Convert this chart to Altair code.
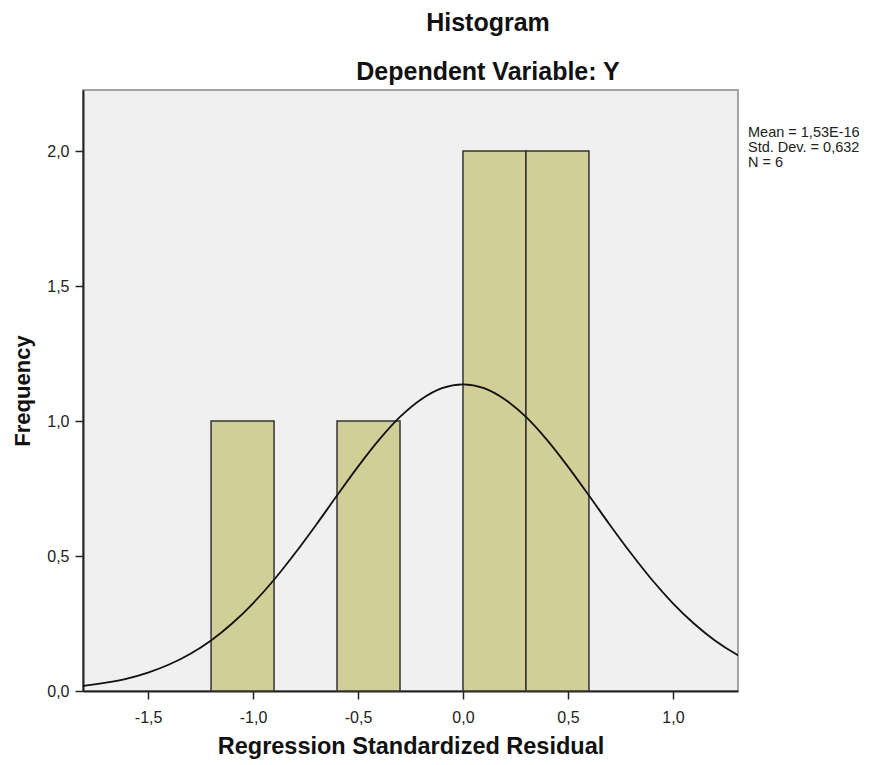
import altair as alt
import pandas as pd

# Histogram bins (Regression Standardized Residual) and frequencies
bin_start = [-1.2, -0.6, 0.0, 0.3]
bin_end = [-0.9, -0.3, 0.3, 0.6]
freq = [1, 1, 2, 2]

# Normal curve
curve_x = [-1.9, -1.8, -1.7, -1.6, -1.5, -1.4, -1.3, -1.2, -1.1, -1.0, -0.9, -0.8,
           -0.7, -0.6, -0.5, -0.4, -0.3, -0.2, -0.1, 0.0, 0.1, 0.2, 0.3, 0.4,
           0.5, 0.6, 0.7, 0.8, 0.9, 1.0, 1.1, 1.2, 1.3, 1.4]
curve_y = [0.012, 0.020, 0.031, 0.046, 0.068, 0.098, 0.137, 0.187, 0.250, 0.325, 0.412, 0.510,
           0.615, 0.724, 0.831, 0.930, 1.015, 1.080, 1.122, 1.136, 1.122, 1.080, 1.015, 0.930,
           0.831, 0.724, 0.615, 0.510, 0.412, 0.325, 0.250, 0.187, 0.137, 0.098]

x_ticks = [-1.5, -1.0, -0.5, 0.0, 0.5, 1.0]
y_ticks = [0.0, 0.5, 1.0, 1.5, 2.0]

title_text = "Histogram"
subtitle_text = "Dependent Variable: Y"
stats_text = "Mean = 1,53E-16\nStd. Dev. = 0,632\nN = 6"
x_title = "Regression Standardized Residual"
y_title = "Frequency"

FONT = "Liberation Sans"
label_expr = "(datum.value < 0 ? '-' : '') + replace(format(abs(datum.value), '.1f'), '.', ',')"

bars_df = pd.DataFrame({"start": bin_start, "end": bin_end, "freq": freq})
curve_df = pd.DataFrame({"x": curve_x, "y": curve_y})

xscale = alt.Scale(domain=[-1.81, 1.31], nice=False, zero=False)
yscale = alt.Scale(domain=[0, 2.226], nice=False, zero=False)

xaxis = alt.Axis(values=x_ticks, labelExpr=label_expr, grid=False, title=x_title,
                 tickSize=8, labelPadding=10, titlePadding=9, titleFontSize=23.5)
yaxis = alt.Axis(values=y_ticks, labelExpr=label_expr, grid=False, title=y_title,
                 tickSize=8, labelPadding=6, titlePadding=12, titleFontSize=22)

bars = alt.Chart(bars_df).mark_rect(
    fill="#d2ce98", stroke="#333333", strokeWidth=1.5
).encode(
    x=alt.X("start:Q", scale=xscale, axis=xaxis),
    x2="end:Q",
    y=alt.Y("freq:Q", scale=yscale, axis=yaxis),
    y2=alt.datum(0),
)

curve = alt.Chart(curve_df).mark_line(
    color="#111111", strokeWidth=1.8, interpolate="monotone", clip=True
).encode(
    x=alt.X("x:Q", scale=xscale),
    y=alt.Y("y:Q", scale=yscale),
)

text_df = pd.DataFrame({"t": [title_text], "s": [subtitle_text], "st": [stats_text]})

title_mark = alt.Chart(text_df).mark_text(
    font=FONT, fontSize=25, fontWeight="bold", color="#111111",
    align="center", baseline="middle"
).encode(text="t:N", x=alt.value(405), y=alt.value(-67))

subtitle_mark = alt.Chart(text_df).mark_text(
    font=FONT, fontSize=25, fontWeight="bold", color="#111111",
    align="center", baseline="middle"
).encode(text="s:N", x=alt.value(405), y=alt.value(-18))

stats_mark = alt.Chart(text_df).mark_text(
    font=FONT, fontSize=14.5, color="#222222", align="left", baseline="top",
    lineBreak="\n", lineHeight=15
).encode(text="st:N", x=alt.value(665), y=alt.value(36))

chart = alt.layer(bars, curve, title_mark, subtitle_mark, stats_mark).properties(
    width=655, height=601,
    autosize=alt.AutoSizeParams(type="none"),
    padding={"left": 75, "top": 82, "right": 139, "bottom": 74},
    background="white",
).configure_view(
    fill="#f0f0f0", stroke="#888888", strokeWidth=1.5
).configure_axis(
    domainColor="#222222", domainWidth=2, tickColor="#222222", tickWidth=1.5,
    labelFont=FONT, labelFontSize=16, labelColor="#222222",
    titleFont=FONT, titleFontWeight="bold", titleColor="#111111",
)

chart.save("out.html", embed_options={"renderer": "svg", "actions": False})
